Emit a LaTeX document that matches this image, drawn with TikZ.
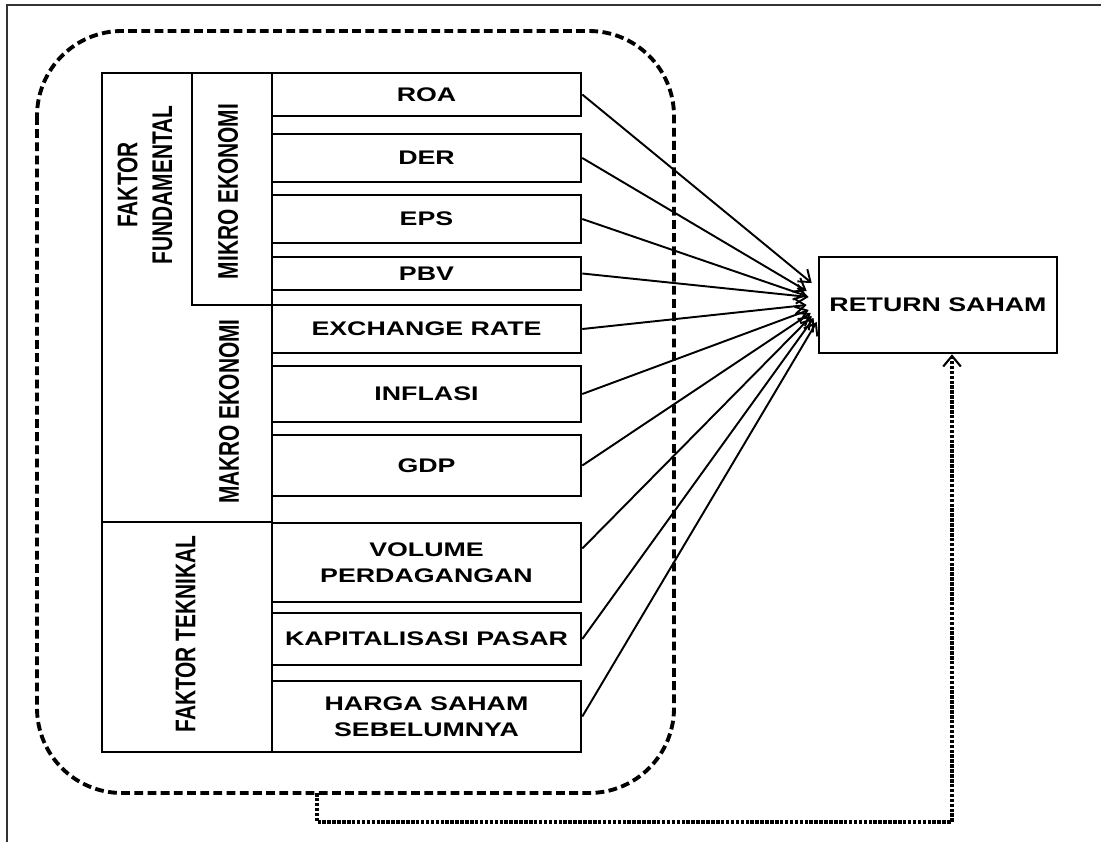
\documentclass[tikz,border=0pt]{standalone}
\usepackage{fontspec}
\setmainfont{Liberation Sans}
\newfontfamily\boxfont{Liberation Sans}[FakeStretch=1.36]
\usetikzlibrary{arrows.meta}

\tikzset{
  varbox/.style={draw, line width=1.5pt, minimum width=6.18cm, inner sep=0pt, align=center,
    font=\boxfont\bfseries\fontsize{11.2}{15}\selectfont},
  sidelabel/.style={xscale=1.36, rotate=90, align=center, inner sep=0pt,
    font=\bfseries\fontsize{11.9}{14.6}\selectfont},
  arr/.style={line width=1.1pt, -{Straight Barb[length=6pt,width=9pt]}},
  fback/.style={line width=1.9pt, dash pattern=on 2pt off 0.8pt, -{Straight Barb[length=6pt,width=10pt,line width=1.2pt]}},
  grupbox/.style={line width=2.2pt, dash pattern=on 5pt off 2.5pt, rounded corners=1.7cm}
}

\begin{document}
\begin{tikzpicture}[x=0.02cm,y=-0.02cm]
\useasboundingbox (0,0) rectangle (1101,842);

%frame
\draw[line width=0.9pt,black!80] (1101,5) -- (7,5) -- (7,842);

%dashed group
\draw[grupbox] (37,31) rectangle (674,793);
\coordinate (fbstart) at (317,793);

%left column
\draw[line width=1.5pt] (102,73) rectangle (272,752);
\draw[line width=1.2pt] (102,522) -- (272,522);
\draw[line width=1.5pt] (192,73) rectangle (272,305);
\node[sidelabel] (fund) at (145,185) {FAKTOR\\FUNDAMENTAL};
\node[sidelabel] (mikro) at (228,191.5) {MIKRO EKONOMI};
\node[sidelabel] (makro) at (229,411.5) {MAKRO EKONOMI};
\node[sidelabel] (tekn) at (185.5,634) {FAKTOR TEKNIKAL};

%variables
\node[varbox, minimum height=0.86cm] (roa) at (426.5,94.5) {ROA};
\node[varbox, minimum height=0.96cm] (der) at (426.5,158) {DER};
\node[varbox, minimum height=0.96cm] (eps) at (426.5,219) {EPS};
\node[varbox, minimum height=0.66cm] (pbv) at (426.5,273.5) {PBV};
\node[varbox, minimum height=0.96cm] (exch) at (426.5,329) {EXCHANGE RATE};
\node[varbox, minimum height=1.12cm] (infl) at (426.5,394) {INFLASI};
\node[varbox, minimum height=1.22cm] (gdp) at (426.5,465.5) {GDP};
\node[varbox, minimum height=1.58cm] (vol) at (426.5,562.5) {VOLUME\\PERDAGANGAN};
\node[varbox, minimum height=1.04cm] (kap) at (426.5,639) {KAPITALISASI PASAR};
\node[varbox, minimum height=1.42cm] (harga) at (426.5,716.5) {HARGA SAHAM\\SEBELUMNYA};

%dependent
\node[varbox, minimum width=4.76cm, minimum height=1.92cm] (ret) at (938,305) {RETURN SAHAM};

%arrows
\foreach \src/\sy/\dx/\dy in {roa/0/-6/-22, der/0/-11/-14, eps/0/-11/-9, pbv/0/-9/-8,
  exch/0/-11/0, infl/0/-9/5, gdp/0/-7/8, vol/-14/-6/11, kap/0/-4/13, harga/0/-1/17}
  \draw[arr] ([shift={(0,\sy)}]\src.east) -- ([shift={(\dx,\dy)}]ret.west);

%feedback
\draw[fback] (fbstart) -- ++(0,29) -| ([xshift=0.28cm]ret.south);

\end{tikzpicture}
\end{document}
